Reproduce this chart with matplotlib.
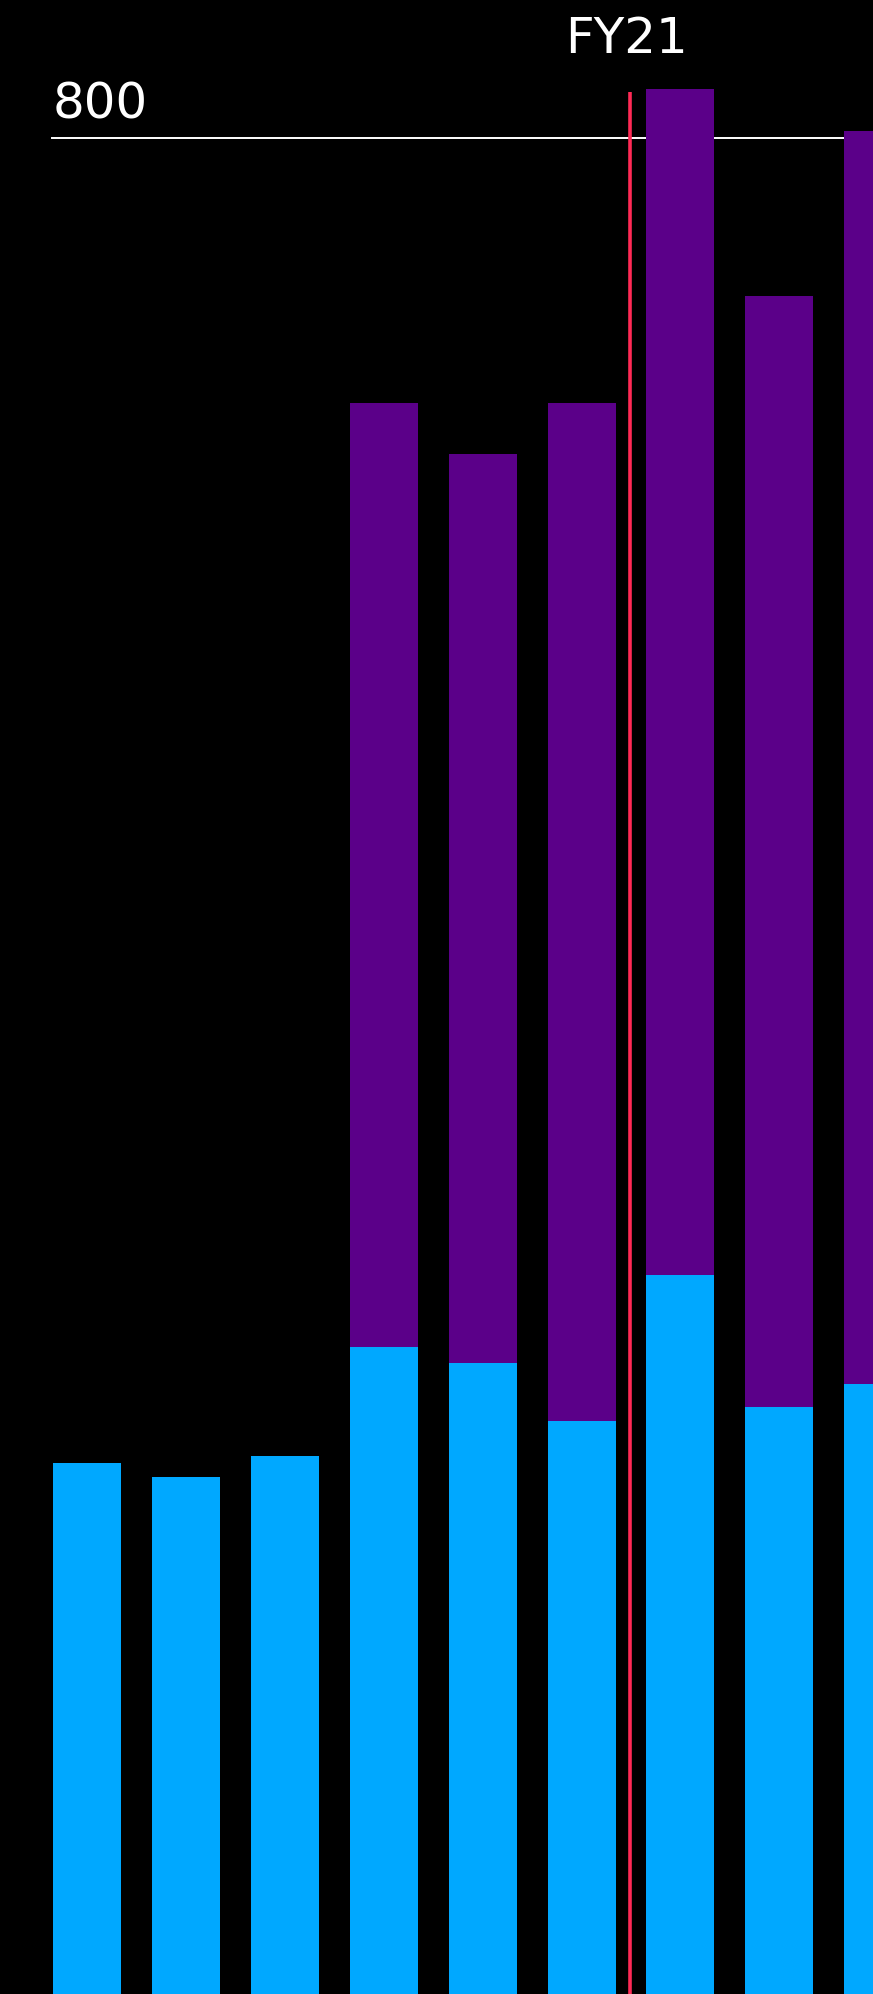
import numpy as np
import matplotlib
matplotlib.use("Agg")
import matplotlib.pyplot as plt

# values (units of the 800 gridline)
blue_vals = [229, 223, 232, 279, 272, 247, 310, 253, 263]
purple_vals = [0, 0, 0, 407, 392, 439, 511, 479, 540]
grid_value = 800
marker_label = "FY21"
marker_pos = 5.49  # between 6th and 7th bar

BLUE = "#00a8ff"
PURPLE = "#5b0089"
RED = "#ff2a55"


def main():
    fig = plt.figure(figsize=(8.73, 19.94), dpi=100, facecolor="black")
    ax = fig.add_axes([0, 0, 1, 1])
    ax.set_facecolor("black")

    x = np.arange(len(blue_vals))
    ax.bar(x, blue_vals, width=0.688, color=BLUE, linewidth=0)
    ax.bar(x, purple_vals, width=0.688, bottom=blue_vals, color=PURPLE, linewidth=0)

    ax.set_xlim(-0.88, 7.947)
    ax.set_ylim(0, 859.5)

    # gridline and its label
    ax.axhline(grid_value, xmin=0.0596, xmax=1, color="white", lw=1.4, zorder=0)
    ax.text(-0.345, grid_value + 8.5, str(grid_value), color="white",
            fontsize=36, ha="left", va="baseline")

    # FY21 marker
    ax.vlines(marker_pos, 0, 820, color=RED, lw=2.6)
    ax.text(marker_pos - 0.04, 836.5, marker_label, color="white",
            fontsize=36, ha="center", va="baseline")

    ax.axis("off")
    fig.savefig("out.png", dpi=100, facecolor="black")


if __name__ == "__main__":
    main()
